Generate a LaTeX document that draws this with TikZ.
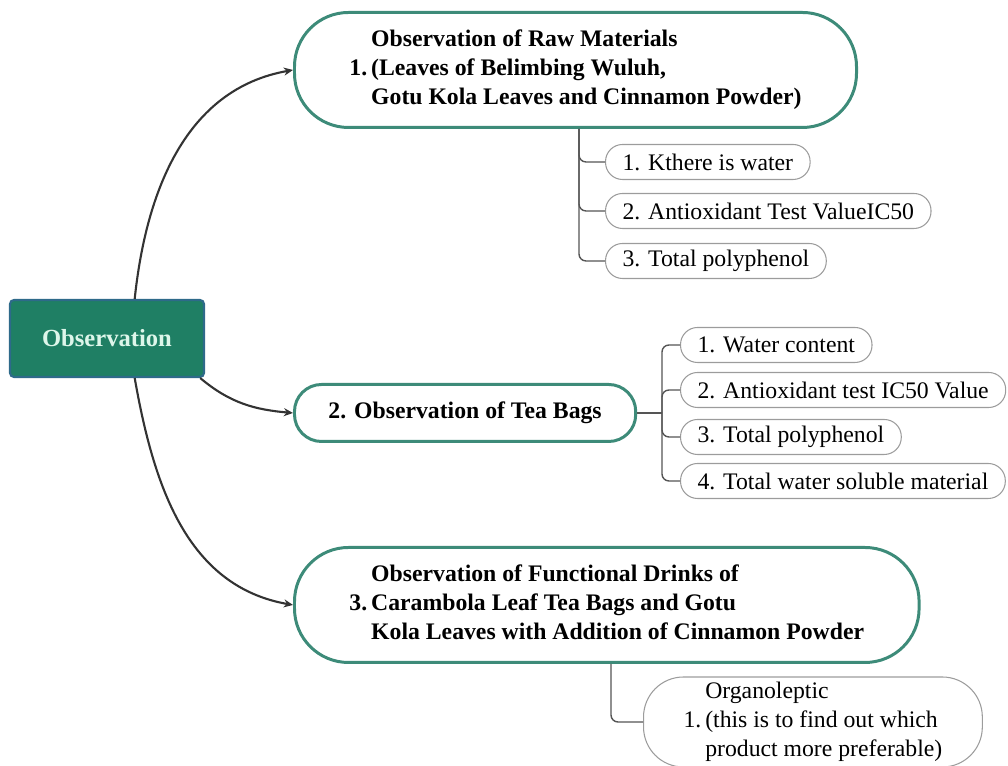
\documentclass[tikz,border=0pt]{standalone}
\usepackage{fontspec}
\setmainfont{Liberation Serif}
\usepackage{tikz}
\usetikzlibrary{arrows.meta,calc}

\newlength\unitpx
\setlength\unitpx{0.02cm}

\definecolor{rootfill}{HTML}{1F7F64}
\definecolor{rootedge}{HTML}{2E6A8A}
\definecolor{roottext}{HTML}{DDF6EA}
\definecolor{pilledge}{HTML}{3D8B79}
\definecolor{subedge}{HTML}{9C9C9C}
\definecolor{branchgray}{HTML}{555555}
\definecolor{linkgray}{HTML}{333333}

\tikzset{
  rootbox/.style={draw=rootedge, fill=rootfill, line width=1.2pt,
    rounded corners=4\unitpx, minimum width=194\unitpx, minimum height=77\unitpx,
    text=roottext, font=\fontsize{14}{17}\selectfont\bfseries},
  mainpill/.style={draw=pilledge, line width=1.7pt, fill=white, anchor=west,
    inner ysep=0pt, font=\fontsize{13.5}{16.5}\selectfont\bfseries},
  subpill/.style={draw=subedge, line width=0.6pt, anchor=west,
    minimum height=35\unitpx, rounded corners=17\unitpx,
    inner xsep=17\unitpx, inner ysep=0pt, font=\fontsize{13.5}{16.5}\selectfont},
  branch/.style={draw=branchgray, line width=0.8pt, rounded corners=7\unitpx},
  link/.style={draw=linkgray, line width=1.2pt,
    -{Stealth[length=5.2pt,width=4.6pt]}}
}

\begin{document}
\begin{tikzpicture}[x=\unitpx, y=\unitpx]
    \useasboundingbox (0,0) rectangle (1008,766);

    % root
    \node[rootbox] (obs) at (107,427.5) {Observation};

    % main branches
    \node[mainpill, minimum height=115\unitpx, rounded corners=54\unitpx,
        inner xsep=55\unitpx] (raw) at (293,696)
        {\begin{tabular}{@{}l@{\,}l@{}}
         & Observation of Raw Materials\\
         1. & (Leaves of Belimbing Wuluh,\\
         & Gotu Kola Leaves and Cinnamon Powder)
         \end{tabular}};
    \node[mainpill, minimum height=57\unitpx, rounded corners=27\unitpx,
        inner xsep=34\unitpx] (bags) at (293,353)
        {2. Observation of Tea Bags};
    \node[mainpill, minimum height=115\unitpx, rounded corners=54\unitpx,
        inner xsep=55\unitpx] (drink) at (293,161)
        {\begin{tabular}{@{}l@{\,}l@{}}
         & Observation of Functional Drinks of\\
         3. & Carambola Leaf Tea Bags and Gotu\\
         & Kola Leaves with Addition of Cinnamon Powder
         \end{tabular}};

    % raw material tests
    \node[subpill] (raw1) at (605,604) {1. Kthere is water};
    \node[subpill] (raw2) at (605,555) {2. Antioxidant Test ValueIC50};
    \node[subpill] (raw3) at (605,505) {3. Total polyphenol};

    % tea bag tests
    \node[subpill] (bags1) at (680,421) {1. Water content};
    \node[subpill] (bags2) at (680,376) {2. Antioxidant test IC50 Value};
    \node[subpill] (bags3) at (680,329) {3. Total polyphenol};
    \node[subpill] (bags4) at (680,285) {4. Total water soluble material};

    % drink test
    \node[subpill, minimum height=90\unitpx, rounded corners=40\unitpx,
        inner xsep=40\unitpx] (drink1) at (643,44)
        {\begin{tabular}{@{}l@{\,}l@{}}
         & Organoleptic\\
         1. & (this is to find out which\\
         & product more preferable)
         \end{tabular}};

    \coordinate (fork1) at (raw.south -| 579,0);
    \coordinate (fork2) at (662,353);
    \coordinate (fork3) at (drink.south -| 611,0);

    \draw[link] (obs.55) to[out=84,in=190] (raw.west);
    \draw[link] (obs.-23) to[out=-40,in=175] (bags.west);
    \draw[link] (obs.-55) to[out=-80,in=170] (drink.west);

    \foreach \k in {raw1,raw2,raw3}
        \draw[branch] (fork1) |- (\k.west);
    \draw[branch] (bags.east) -- (fork2);
    \foreach \k in {bags1,bags2,bags3,bags4}
        \draw[branch] (fork2) |- (\k.west);
    \draw[branch] (fork3) |- (drink1.west);
\end{tikzpicture}
\end{document}
